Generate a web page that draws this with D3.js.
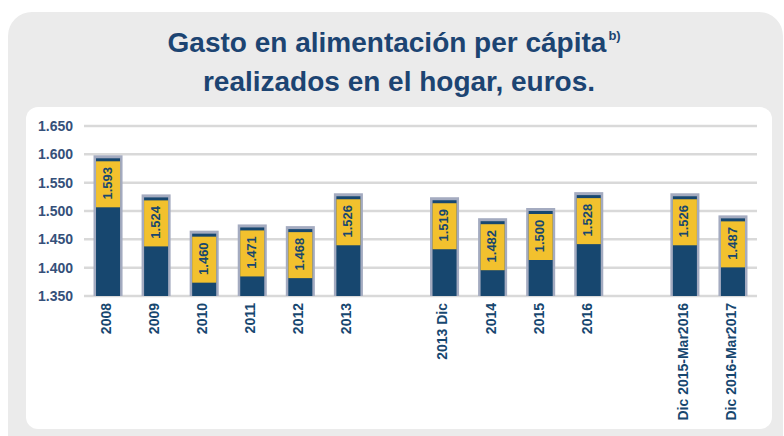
<!DOCTYPE html>
<html>
<head>
<meta charset="utf-8">
<script src="https://cdn.jsdelivr.net/npm/d3@7"></script>
<style>
  body { margin: 0; background: #fff; }
  svg { display: block; font-family: "Liberation Sans", Arial, sans-serif; }
</style>
</head>
<body>
<svg id="chart"></svg>
<script>
const categories = ["2008", "2009", "2010", "2011", "2012", "2013", "2013 Dic", "2014", "2015", "2016", "Dic 2015-Mar2016", "Dic 2016-Mar2017"];
const values = [1593, 1524, 1460, 1471, 1468, 1526, 1519, 1482, 1500, 1528, 1526, 1487];
// a blank slot follows these categories
const gapAfter = ["2013", "2016"];
const yTicks = [1350, 1400, 1450, 1500, 1550, 1600, 1650];
const titleLines = ["Gasto en alimentación per cápita", "realizados en el hogar, euros."];
const titleNote = "b)";

const width = 784, height = 436;
const navy = "#17476f", yellow = "#f2c12e", gridColor = "#d9d9d9";

const es = d3.formatLocale({ decimal: ",", thousands: ".", grouping: [3], currency: ["", " €"] });
const fmt = es.format(",d");

const svg = d3.select("#chart").attr("width", width).attr("height", height);

// panels
svg.append("rect")
  .attr("x", 8).attr("y", 12).attr("width", 775).attr("height", 446).attr("rx", 24)
  .style("fill", "#ebebeb");
svg.append("rect")
  .attr("x", 26).attr("y", 107).attr("width", 746).attr("height", 322).attr("rx", 12)
  .style("fill", "#fff");

// title
const t1 = svg.append("text")
  .text(titleLines[0])
  .attr("x", 387).attr("y", 52)
  .attr("text-anchor", "middle")
  .style("font-size", "28px").style("font-weight", "bold").style("fill", "#1c4472");
const len1 = t1.node().getComputedTextLength();
svg.append("text")
  .text(titleNote)
  .attr("x", 387 + len1 / 2 + 2).attr("y", 40)
  .style("font-size", "13px").style("font-weight", "bold").style("fill", "#1c4472");
svg.append("text")
  .text(titleLines[1])
  .attr("x", 399).attr("y", 91)
  .attr("text-anchor", "middle")
  .style("font-size", "28px").style("font-weight", "bold").style("fill", "#1c4472");

// scales
const slots = [];
categories.forEach(c => {
  slots.push(c);
  if (gapAfter.includes(c)) slots.push("gap-" + c);
});
const x = d3.scaleBand().domain(slots).range([84, 757]).paddingInner(0.5).paddingOuter(0.25);
const y = d3.scaleLinear().domain([1350, 1650]).range([296, 126]);

// grid + y labels
const grid = svg.append("g");
yTicks.forEach(t => {
  grid.append("line")
    .attr("x1", 84).attr("x2", 757)
    .attr("y1", y(t)).attr("y2", y(t))
    .style("stroke", gridColor).style("stroke-width", 2.5);
  grid.append("text")
    .text(fmt(t))
    .attr("x", 73).attr("y", y(t)).attr("dy", "0.35em")
    .attr("text-anchor", "end")
    .style("font-size", "14px").style("font-weight", "bold").style("fill", "#35507a");
});

// bars
const data = categories.map((c, i) => ({ cat: c, value: values[i] }));
const bw = x.bandwidth();
const boxH = 46;

const bars = svg.append("g").selectAll("g")
  .data(data)
  .join("g");

bars.append("rect")
  .attr("x", d => x(d.cat) - 2.5)
  .attr("y", d => y(d.value) - 3)
  .attr("width", bw + 5)
  .attr("height", d => y(1350) - y(d.value) + 3)
  .style("fill", "#a4abc0");

bars.append("rect")
  .attr("x", d => x(d.cat))
  .attr("y", d => y(d.value))
  .attr("width", bw)
  .attr("height", d => y(1350) - y(d.value))
  .style("fill", navy);

bars.append("rect")
  .attr("x", d => x(d.cat))
  .attr("y", d => y(d.value) + 3)
  .attr("width", bw)
  .attr("height", boxH)
  .style("fill", yellow);

bars.append("text")
  .text(d => fmt(d.value))
  .attr("transform", d => "translate(" + (x(d.cat) + bw / 2 - 1) + "," + (y(d.value) + 3 + boxH / 2 - 1) + ") rotate(-90)")
  .attr("text-anchor", "middle")
  .attr("dy", "0.35em")
  .style("font-size", "13px").style("font-weight", "bold").style("fill", navy);

// x labels
svg.append("g").selectAll("text")
  .data(categories)
  .join("text")
  .text(d => d)
  .attr("transform", d => "translate(" + (x(d) + bw / 2 - 2) + ",303) rotate(-90)")
  .attr("text-anchor", "end")
  .attr("dy", "0.35em")
  .style("font-size", "14px").style("font-weight", "bold").style("fill", navy);
</script>
</body>
</html>
